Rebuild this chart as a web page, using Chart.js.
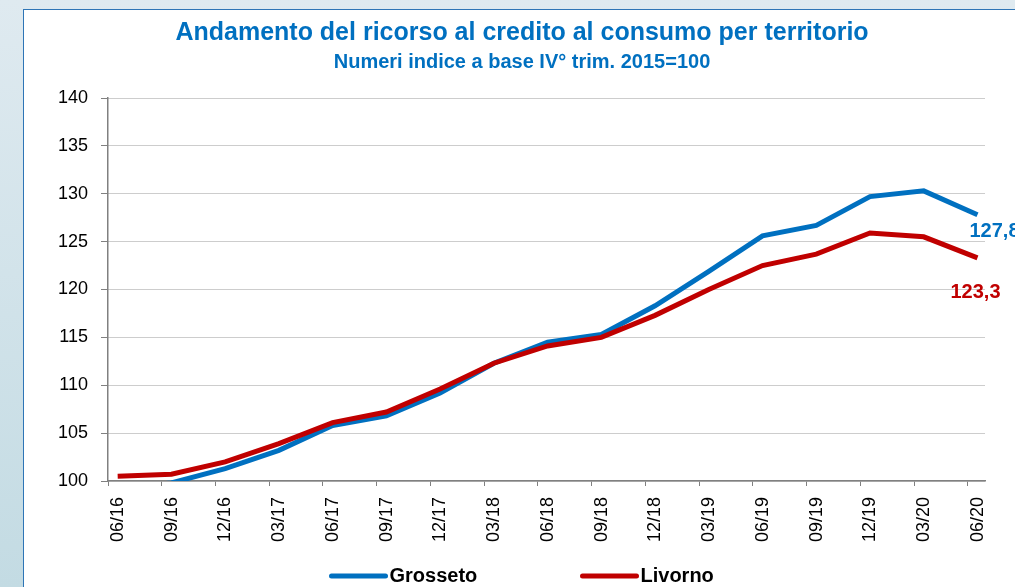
<!DOCTYPE html>
<html>
<head>
<meta charset="utf-8">
<script src="https://cdn.jsdelivr.net/npm/chart.js@4.4.1/dist/chart.umd.min.js"></script>
<style>
  body { margin: 0; width: 1015px; height: 587px; overflow: hidden; background: linear-gradient(#dfeaf0, #c3dbe3); }
  #box { position: absolute; left: 23px; top: 9px; border-left: 1px solid #2e75b6; border-top: 1px solid #2e75b6; background: #fff; width: 1000px; height: 600px; }
</style>
</head>
<body>
<div id="box"><canvas id="chart" width="996" height="577"></canvas></div>
<script>
// trimestri
const periods = ['06/16','09/16','12/16','03/17','06/17','09/17','12/17','03/18','06/18','09/18',
                 '12/18','03/19','06/19','09/19','12/19','03/20','06/20']
// numeri indice, IV trim. 2015 = 100
const grosseto = [99.2, 99.8, 101.3, 103.2, 105.8, 106.8, 109.2, 112.3, 114.5, 115.3,
                  118.3, 121.9, 125.6, 126.7, 129.7, 130.3, 127.8]
const livorno  = [100.5, 100.7, 102.0, 103.9, 106.1, 107.2, 109.6, 112.3, 114.1, 115.0,
                  117.3, 120.0, 122.5, 123.7, 125.9, 125.5, 123.3]

const FONT = 'Liberation Sans'
const BLUE = '#0070c0'
const RED = '#c00000'

const toPoints = arr => arr.map((v, i) => ({x: i, y: v}))

// etichetta del valore finale di ogni serie
const endLabels = {
  id: 'endLabels',
  afterDatasetsDraw(chart) {
    const ctx = chart.ctx
    const offsets = [[-8, 17], [-27, 35]]
    chart.data.datasets.forEach((ds, i) => {
      const pts = chart.getDatasetMeta(i).data
      const last = pts[pts.length - 1]
      const v = ds.data[ds.data.length - 1].y
      ctx.save()
      ctx.font = 'bold 20px ' + FONT
      ctx.fillStyle = ds.borderColor
      ctx.textAlign = 'left'
      ctx.textBaseline = 'middle'
      ctx.fillText(v.toFixed(1).replace('.', ','), last.x + offsets[i][0], last.y + offsets[i][1])
      ctx.restore()
    })
  }
}

// legenda in basso, stile Excel
const bottomLegend = {
  id: 'bottomLegend',
  afterDraw(chart) {
    const ctx = chart.ctx
    const a = chart.chartArea
    const cx = (a.left + a.right) / 2
    const y = a.bottom + 95
    const starts = [-215, 36]
    chart.data.datasets.forEach((ds, i) => {
      const x = cx + starts[i]
      ctx.save()
      ctx.strokeStyle = ds.borderColor
      ctx.lineWidth = 5
      ctx.lineCap = 'round'
      ctx.beginPath()
      ctx.moveTo(x, y)
      ctx.lineTo(x + 54, y)
      ctx.stroke()
      ctx.font = 'bold 20px ' + FONT
      ctx.fillStyle = '#000'
      ctx.textBaseline = 'middle'
      ctx.fillText(ds.label, x + 58, y)
      ctx.restore()
    })
  }
}

new Chart(document.getElementById('chart'), {
  type: 'line',
  data: {
    datasets: [
      {label: 'Grosseto', data: toPoints(grosseto), borderColor: BLUE, borderWidth: 5, pointRadius: 0, order: 1},
      {label: 'Livorno', data: toPoints(livorno), borderColor: RED, borderWidth: 5, pointRadius: 0, order: 0}
    ]
  },
  options: {
    responsive: false,
    animation: false,
    layout: {padding: {left: 35, right: 35, top: 0, bottom: 0}},
    plugins: {
      legend: {display: false},
      tooltip: {enabled: false},
      title: {
        display: true,
        text: 'Andamento del ricorso al credito al consumo per territorio',
        color: BLUE,
        font: {family: FONT, size: 25, weight: 'bold'},
        padding: {top: 8, bottom: 2}
      },
      subtitle: {
        display: true,
        text: 'Numeri indice a base IV° trim. 2015=100',
        color: BLUE,
        font: {family: FONT, size: 20, weight: 'bold'},
        padding: {top: 0, bottom: 24}
      }
    },
    scales: {
      x: {
        type: 'linear',
        bounds: 'data',
        min: -0.18,
        max: 16.14,
        afterBuildTicks: s => { s.ticks = periods.map((p, i) => ({value: i - 0.18})) },
        afterFit: s => { s.height = 106 },
        ticks: {
          callback: (v, i) => periods[i],
          autoSkip: false,
          minRotation: 90,
          maxRotation: 90,
          labelOffset: 10,
          padding: 11,
          color: '#000',
          font: {family: FONT, size: 18}
        },
        grid: {drawOnChartArea: false, tickLength: 5, color: '#808080'},
        border: {color: '#808080', width: 1.5}
      },
      y: {
        min: 100,
        max: 140,
        afterFit: s => { s.width = 49 },
        ticks: {stepSize: 5, padding: 13, color: '#000', font: {family: FONT, size: 18}},
        grid: {color: '#9a9a9a', tickColor: '#808080', tickLength: 7},
        border: {color: '#808080', width: 1.5, dash: [1, 1]}
      }
    }
  },
  plugins: [endLabels, bottomLegend]
})
</script>
</body>
</html>
